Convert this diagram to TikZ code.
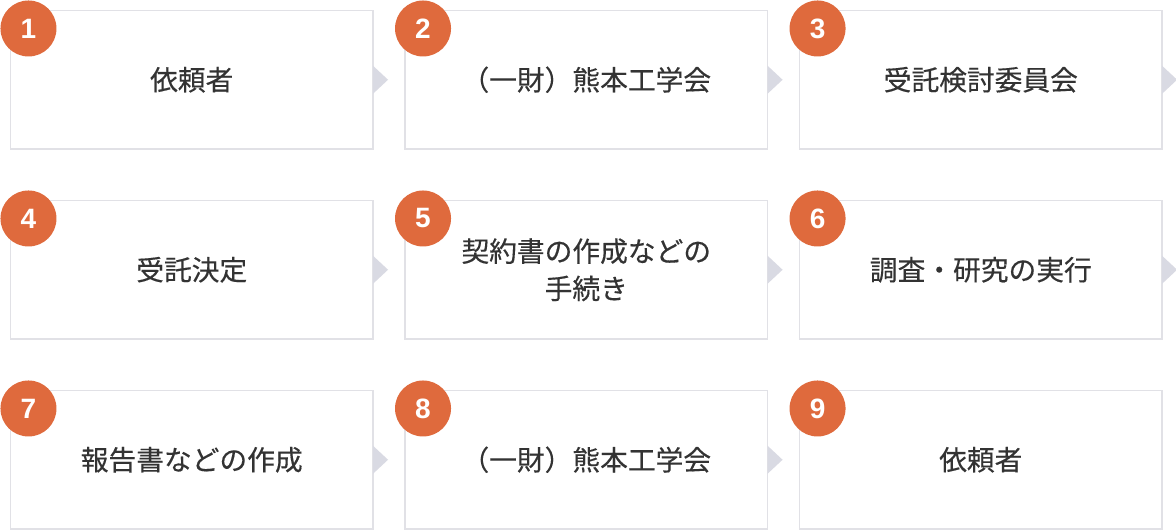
\documentclass[tikz,border=0pt]{standalone}
\usepackage{fontspec}
\newfontfamily\jpfont[FakeBold=0.35]{Noto Sans CJK JP}
\newfontfamily\numfont{Liberation Sans}
\usetikzlibrary{positioning}
\definecolor{stepborder}{HTML}{E1E1E6}
\definecolor{stepnum}{HTML}{DF6A3D}
\definecolor{steparrow}{HTML}{D9DAE3}
\definecolor{steptext}{HTML}{333333}

\begin{document}
\begin{tikzpicture}
[
x=.75pt, y=-.75pt
, node distance=38.6pt and 24pt
, every node/.style={font=\jpfont\fontsize{20.8}{28}\selectfont, text=steptext}
, stepbox/.style={draw=stepborder, fill=white, line width=1.1pt, outer sep=0pt, inner sep=0pt, minimum width=271.9pt, minimum height=103.9pt, align=center}
, numdot/.style={circle, fill=stepnum, minimum size=42pt, inner sep=0pt, text=white, font=\numfont\bfseries\fontsize{21}{21}\selectfont}
, flow/.style={fill=steparrow}
]

\fill[white] (0,0) rectangle (1176,530);
\useasboundingbox (0,0) rectangle (1176,530);

% row 1
\node[stepbox] (b1) at (191.75,79.75) {依頼者};
\node[stepbox, right=of b1] (b2) {（一財）熊本工学会};
\node[stepbox, right=of b2] (b3) {受託検討委員会};

% row 2
\node[stepbox, below=of b1] (b4) {受託決定};
\node[stepbox, right=of b4] (b5) {契約書の作成などの\\手続き};
\node[stepbox, right=of b5] (b6) {調査・研究の実行};

% row 3
\node[stepbox, below=of b4] (b7) {報告書などの作成};
\node[stepbox, right=of b7] (b8) {（一財）熊本工学会};
\node[stepbox, right=of b8] (b9) {依頼者};

% arrows
\foreach \a in {b1,b2,b3,b4,b5,b6,b7,b8}
  \fill[flow] (\a.east) ++(0,-14) -- ++(15,14) -- ++(-15,14) -- cycle;

% numbers
\foreach \i in {1,...,9}
  \node[numdot] (n\i) at ([shift={(18,18)}]b\i.north west) {\i};

\end{tikzpicture}
\end{document}
